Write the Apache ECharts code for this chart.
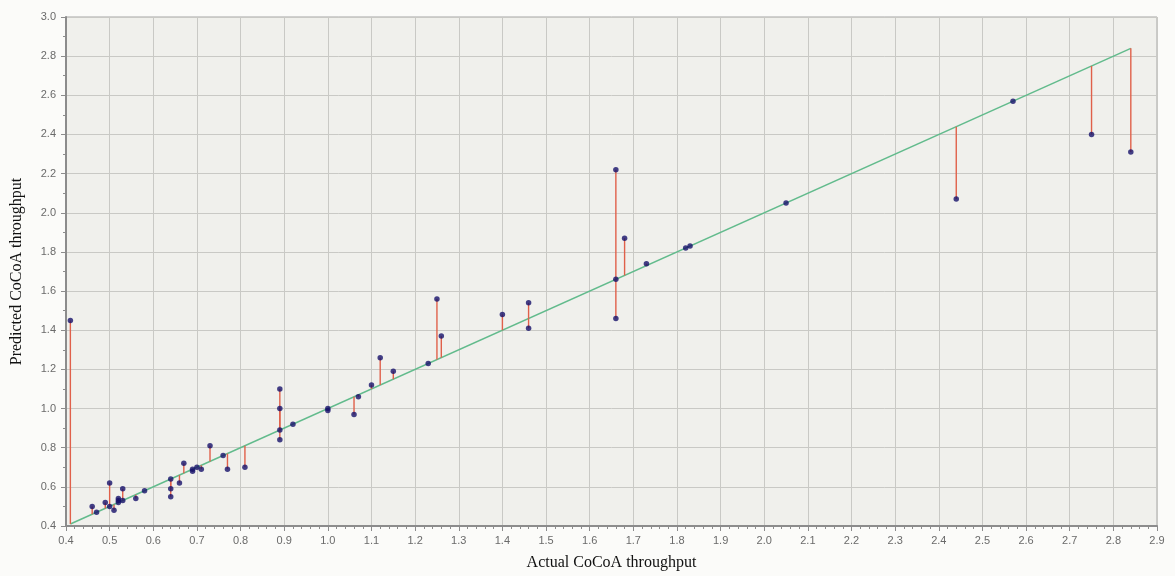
<!DOCTYPE html>
<html>
<head>
<meta charset="utf-8">
<script src="https://cdn.jsdelivr.net/npm/echarts@6/dist/echarts.min.js"></script>
<style>
  html, body { margin: 0; padding: 0; background: #fbfbf9; }
  #chart { width: 1175px; height: 576px; }
</style>
</head>
<body>
<div id="chart"></div>
<script>
// actual vs predicted throughput
var actual = [0.41, 0.46, 0.47, 0.49, 0.50, 0.50, 0.51, 0.52, 0.52, 0.52, 0.53, 0.53, 0.56, 0.58,
  0.64, 0.64, 0.64, 0.66, 0.67, 0.69, 0.69, 0.70, 0.71, 0.73, 0.76, 0.77, 0.81,
  0.89, 0.89, 0.89, 0.89, 0.92, 1.00, 1.00, 1.06, 1.07, 1.10, 1.12, 1.15, 1.23, 1.25, 1.26,
  1.40, 1.46, 1.46, 1.66, 1.66, 1.66, 1.68, 1.73, 1.82, 1.83, 2.05, 2.44, 2.57, 2.75, 2.84];
var predicted = [1.45, 0.50, 0.47, 0.52, 0.62, 0.50, 0.48, 0.54, 0.53, 0.52, 0.59, 0.53, 0.54, 0.58,
  0.64, 0.59, 0.55, 0.62, 0.72, 0.68, 0.69, 0.70, 0.69, 0.81, 0.76, 0.69, 0.70,
  1.10, 1.00, 0.89, 0.84, 0.92, 1.00, 0.99, 0.97, 1.06, 1.12, 1.26, 1.19, 1.23, 1.56, 1.37,
  1.48, 1.54, 1.41, 2.22, 1.66, 1.46, 1.87, 1.74, 1.82, 1.83, 2.05, 2.07, 2.57, 2.40, 2.31];

var xMin = 0.4, xMax = 2.9, xStep = 0.1;
var yMin = 0.4, yMax = 3.0, yStep = 0.2;

var points = [];
for (var i = 0; i < actual.length; i++) {
    points.push([actual[i], predicted[i]]);
}
// ideal line y = x over the range of actual values
var lo = Math.min.apply(null, actual), hi = Math.max.apply(null, actual);
var ideal = [[lo, lo], [hi, hi]];

var labelStyle = { color: '#6a6a6a', fontSize: 11, fontFamily: 'Liberation Sans' };
var titleStyle = { color: '#111', fontSize: 16, fontFamily: 'Liberation Serif' };

var myChart = echarts.init(document.getElementById('chart'));
var option = {
    backgroundColor: '#fbfbf9',
    animation: false,
    grid: {
        left: 66, right: 18, top: 17, bottom: 49,
        show: true,
        backgroundColor: '#f0f0ec',
        borderColor: '#a4a4a4',
        borderWidth: 1
    },
    xAxis: {
        type: 'value',
        min: xMin, max: xMax, interval: xStep,
        name: 'Actual CoCoA throughput',
        nameLocation: 'middle',
        nameGap: 29,
        nameTextStyle: titleStyle,
        axisLine: { lineStyle: { color: '#8c8c8c', width: 2 } },
        axisTick: { length: 5, lineStyle: { color: '#8c8c8c' } },
        minorTick: { show: true, splitNumber: 5, length: 3, lineStyle: { color: '#8c8c8c' } },
        axisLabel: Object.assign({ margin: 9, formatter: function (v) { return v.toFixed(1); } }, labelStyle),
        splitLine: { show: true, lineStyle: { color: '#c9c9c5', width: 1 } }
    },
    yAxis: {
        type: 'value',
        min: yMin, max: yMax, interval: yStep,
        name: 'Predicted CoCoA throughput',
        nameLocation: 'middle',
        nameGap: 41,
        nameTextStyle: titleStyle,
        axisLine: { show: true, lineStyle: { color: '#8c8c8c', width: 2 } },
        axisTick: { show: true, length: 5, lineStyle: { color: '#8c8c8c' } },
        minorTick: { show: true, splitNumber: 2, length: 3, lineStyle: { color: '#8c8c8c' } },
        axisLabel: Object.assign({ margin: 10, formatter: function (v) { return v.toFixed(1); } }, labelStyle),
        splitLine: { show: true, lineStyle: { color: '#c9c9c5', width: 1 } }
    },
    series: [
        {
            name: 'ideal',
            type: 'line',
            data: ideal,
            symbol: 'none',
            lineStyle: { color: '#62bb8c', width: 1.5 },
            z: 2
        },
        {
            // 残差线
            name: 'residual',
            type: 'custom',
            data: points,
            renderItem: function (params, api) {
                var x = api.value(0);
                var p1 = api.coord([x, api.value(1)]);
                var p2 = api.coord([x, x]);
                return {
                    type: 'line',
                    shape: { x1: p1[0], y1: p1[1], x2: p1[0], y2: p2[1] },
                    style: { stroke: '#e0604a', lineWidth: 1.4 }
                };
            },
            z: 3
        },
        {
            name: 'points',
            type: 'scatter',
            data: points,
            symbol: 'circle',
            symbolSize: 5.5,
            itemStyle: { color: '#17126a' },
            z: 4
        }
    ]
};
myChart.setOption(option);
</script>
</body>
</html>
